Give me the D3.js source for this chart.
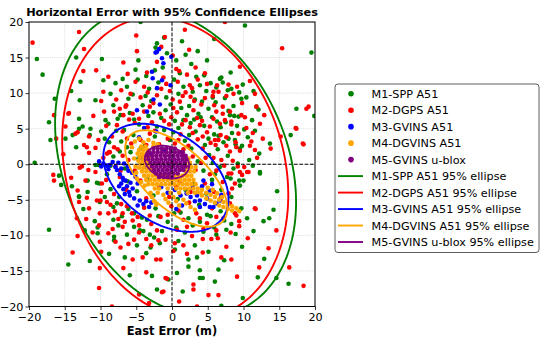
<!DOCTYPE html>
<html><head><meta charset="utf-8">
<script src="https://cdn.jsdelivr.net/npm/d3@7"></script>
<style>body{margin:0;background:#fff} svg{display:block;font-family:"DejaVu Sans",sans-serif}</style>
</head><body><svg id="chart" width="550" height="345"></svg>
<script>
const seriesNames = ["M1-SPP A51","M2-DGPS A51","M3-GVINS A51","M4-DGVINS A51","M5-GVINS u-blox"];
const ellipseNames = ["M1-SPP A51 95% ellipse","M2-DGPS A51 95% ellipse","M3-GVINS A51 95% ellipse","M4-DGVINS A51 95% ellipse","M5-GVINS u-blox 95% ellipse"];
const seriesColors = ["green","red","blue","orange","purple"];
const xTicks = [-20,-15,-10,-5,0,5,10,15,20];
const yTicks = [-20,-15,-10,-5,0,5,10,15,20];

const m1Points = [[-18.9,14.8],[-18.1,12.6],[-16.4,9.2],[-17.2,5.9],[-17.0,3.4],[-19.2,0.2],[-14.1,10.3],[-12.9,9.0],[-12.8,11.6],[-13.4,15.0],[-9.8,14.8],[-10.7,9.0],[-13.0,6.4],[-13.4,2.4],[-11.5,4.1],[-4.4,20.0],[-2.1,17.0],[-2.3,16.4],[-1.1,17.8],[-0.7,15.6],[-4.7,14.6],[-6.9,12.0],[-8.2,8.3],
[10.2,19.5],[5.9,17.6],[1.4,17.3],[6.7,12.0],[7.8,10.4],[9.4,10.1],[12.1,7.7],[17.4,7.8],[19.9,6.8],[16.6,4.1],[19.5,15.7],[4.5,12.5],[6.9,12.2],[9.7,9.2],[12.2,1.5],[11.8,8.1],[13.7,2.9],[9.3,6.7],[8.1,6.9],[8.8,3.4],[9.5,2.2],
[12.3,-1.3],[9.5,-3.0],[14.7,-3.8],[14.2,-6.4],[13.6,-7.6],[12.8,-8.0],[12.9,-13.3],[12.0,-15.9],[16.3,-16.8],[9.9,-18.8],[7.3,-13.5],[6.5,-14.8],[6.0,-16.5],[6.9,-19.9],[3.9,-16.0],[4.3,-16.0],[3.9,-14.9],[2.3,-14.4],[2.3,-13.4],[3.5,-13.1],[0.4,-12.0],[0.7,-15.3],[6.2,-9.9],[4.4,-9.5],[8.3,-8.4],[10.5,-7.6],[9.7,-6.2],[8.3,-4.6],[8.2,-2.0],[9.4,-2.3],[9.2,0.1],[14.6,-16.0],[10.0,-2.3],[12.3,-1.1],
[-15.8,-1.6],[-15.5,-2.9],[-14.0,-3.1],[-10.3,-0.1],[-11.8,-2.3],[-10.5,-2.6],[-11.8,-3.9],[-13.0,-4.5],[-10.1,-5.3],[-8.2,-6.0],[-10.8,-8.0],[-8.2,-7.8],[-7.0,-7.3],[-7.5,-8.6],[-4.5,-9.3],[-4.0,-9.4],[-10.4,-8.9],[-10.4,-9.7],[-17.2,-9.2],[-8.1,-10.2],[-8.1,-10.7],[-4.9,-11.4],[-3.6,-12.5],[-3.0,-11.7],[-1.7,-11.1],[-2.8,-15.7],[-2.1,-17.6],[-0.5,-16.2],[-11.5,-13.6],[-14.5,-14.1],[-13.0,-4.6],
[-13.9,4.1],[-14.9,3.6],[-13.0,5.0],[-10.7,-0.1],[-10.2,-2.7],[-8.8,3.1],[-7.2,6.9],[-6.7,4.8],[-9.3,6.2],[-11.4,5.0],[-12.5,5.3],
[-5.5,9.8],[-3.2,10.6],[-0.8,9.4],[1.6,10.9],[3.2,9.1],[4.8,10.3],[6.1,8.7],[-4.1,8.3],[-1.9,11.5],[2.4,8.2],[0.3,11.9],[-6.3,10.9],[5.4,11.4],[7.4,9.3],
[-7.6,6.4],[-5.9,7.2],[-4.6,5.6],[-3.3,6.8],[-2.1,5.3],[-0.9,7.6],[0.4,6.1],[1.3,7.9],[2.6,5.8],[3.7,7.1],[4.5,5.4],[5.6,6.6],[6.8,5.2],[7.9,7.5],[-1.5,6.5],[2.1,6.9],[5.1,7.8],[3.1,6.3],[0.9,5.1],[-8.9,5.7],[9.1,5.4],
[-7.1,3.2],[-5.4,4.1],[-3.8,2.6],[-2.4,3.9],[0.2,4.5],[1.8,3.3],[3.3,4.6],[4.6,2.7],[5.9,4.2],[7.2,3.1],[8.4,4.4],[6.4,2.1],[2.7,2.2],[-1.1,4.8],[-6.3,2.4],[-9.4,3.6],[10.6,3.8],
[-8.2,1.1],[-6.6,-0.6],[-4.7,0.8],[3.6,0.4],[5.2,1.3],[6.7,-0.4],[7.8,1.2],[4.4,-0.9],[-5.8,1.7],[10.8,0.6],[-9.1,-1.4],
[-8.6,-3.5],[-6.2,-2.4],[-4.9,-3.8],[-2.6,-4.4],[0.8,-4.9],[3.1,-2.8],[5.6,-2.2],[6.9,-3.6],[7.7,-1.8],[-3.4,-2.1],[1.9,-3.6],[4.8,-4.1],[-7.4,-4.6],
[-6.1,-6.3],[-4.2,-7.5],[-2.3,-6.2],[-0.6,-8.1],[1.2,-6.8],[2.9,-8.6],[4.9,-7.1],[6.8,-6.6],[-1.4,-9.4],[0.3,-6.9],[3.8,-5.7],[5.9,-8.9],[-5.3,-8.8],[-3.1,-9.9],[1.8,-9.6],[7.6,-9.2],
[3.9,11.1],[5.7,9.4],[8.6,8.2],[2.9,10.2],[7.1,11.5],[4.2,8.8],[6.5,4.0],[7.5,5.9],[8.9,2.8],[10.1,4.9],[11.2,6.2],[10.4,9.4],[-2.9,8.9],[-0.2,8.4],[1.1,12.8],[-1.3,13.6],[0.6,14.6],[2.7,14.1],[-3.6,12.4],[-5.1,13.3],
[-7.9,11.4],[-4.8,11.9],[-2.4,13.2],[1.9,15.4],[3.6,15.9],[4.9,14.6],[8.2,12.9],[9.9,11.2],[11.4,10.3],[-9.6,11.8],[-8.6,9.9],[-6.1,9.2],[-3.7,9.6],[0.9,9.9],[3.4,12.3],[6.2,10.8],[8.3,10.6],[-5.3,6.3],[-2.6,7.3],[1.6,6.2],[4.0,6.6],[6.3,6.0],[8.7,6.8],[-0.3,3.4],[2.4,4.1],[5.1,3.6],[7.9,3.6],[9.8,2.6],[11.6,4.7],[-9.9,4.6],[-7.8,4.7],[-4.4,2.2],[-8.6,-0.2],[-7.3,1.8],[5.7,0.2],[8.6,-0.6],[11.3,-0.2],[6.0,-1.4],
[-9.4,-4.6],[-7.7,-5.5],[-5.3,-6.9],[-3.5,-7.8],[-1.9,-7.3],[0.6,-8.9],[2.3,-7.6],[3.9,-8.1],[5.4,-7.3],[7.3,-7.9],[8.9,-9.8],[-6.3,-9.9],[-2.5,-10.3],[0.9,-10.8],[3.2,-11.4],[5.1,-12.3],[-6.6,-13.1],[-8.8,-12.6],[9.8,-11.6],[11.4,-9.4],[-12.2,-9.3],[-12.4,-6.3],[1.5,-17.9],[-5.9,-15.6]];

const m2Points = [[-19.5,17.1],[-13.0,18.6],[-5.0,18.1],[-12.3,16.2],[-4.9,15.9],[-1.5,16.5],[-6.8,14.3],[-10.6,13.2],[-12.4,13.1],[-6.2,12.7],[-16.5,6.9],[-14.4,7.2],[-9.6,10.2],[-7.3,7.8],[-13.2,4.5],[-16.2,3.6],[-14.9,5.3],[-15.2,1.4],[-11.0,6.8],[-11.9,2.4],[-10.3,3.4],[-8.7,1.7],
[15.4,16.3],[2.4,16.1],[-1.0,17.9],[1.0,13.1],[9.5,13.7],[10.9,11.7],[2.5,11.1],[5.8,10.2],[6.5,10.2],[11.8,8.1],[18.8,7.8],[17.3,5.1],[18.4,2.8],[15.2,3.9],[13.8,2.2],[11.9,0.9],[7.4,20.0],[1.8,18.9],
[10.5,-1.1],[9.8,-1.5],[11.7,-6.3],[14.6,-9.3],[13.5,-11.8],[12.2,-14.5],[16.4,-14.5],[18.4,-17.1],[8.3,-13.4],[5.1,-18.4],[6.5,-18.4],[3.5,-20.0],[3.0,-16.9],[3.0,-17.6],[2.1,-12.6],[0.4,-11.1],[-0.7,-16.1],[-1.2,-17.9],[7.6,-11.6],[6.2,-9.3],[5.5,-10.5],[4.3,-10.5],[9.4,-8.0],[9.4,-8.7],[9.0,-7.2],[8.1,-5.5],[8.3,-1.3],[1.0,-19.3],
[-16.6,-1.5],[-12.9,-0.5],[-11.7,-0.8],[-9.8,-2.7],[-13.0,-5.3],[-11.9,-4.7],[-10.5,-5.1],[-9.1,-5.3],[-11.6,-6.2],[-10.1,-6.9],[-8.9,-6.9],[-8.0,-6.6],[-6.3,-5.9],[-13.3,-7.6],[-12.0,-7.7],[-10.2,-8.6],[-7.5,-7.7],[-6.6,-8.1],[-5.5,-7.9],[-8.3,-9.1],[-6.9,-8.8],[-4.6,-8.6],[-13.2,-10.1],[-8.9,-9.7],[-10.1,-10.9],[-9.9,-12.3],[-13.9,-12.4],[-7.2,-11.7],[-6.1,-11.2],[-4.1,-13.1],[-5.5,-13.4],[-2.9,-11.4],[-1.9,-10.7],[-2.2,-13.4],[-1.6,-13.4],[-0.9,-16.0],[-1.4,-18.0],[0.2,-12.2],[-10.2,-17.4],[-10.1,-14.6],[-4.6,-18.3],[-8.4,-20.0],[-3.2,-19.5],
[-16.5,-2.3],[-14.5,7.1],[-12.3,2.7],[-13.2,-3.7],[-11.6,1.6],[-12.1,-2.3],[-10.7,-1.1],[-10.0,-5.1],[-9.1,1.5],[-8.1,2.4],[-6.5,8.1],[-5.5,7.1],[-7.7,5.5],[-9.5,7.4],[-11.6,3.9],[-13.5,4.3],
[12.3,5.7],[11.6,2.0],[9.7,6.9],[8.3,6.0],[7.6,3.8],[9.0,2.4],[10.7,-1.1],[17.4,5.0],[18.3,2.9],[19.1,8.1],[9.5,-1.1],[8.8,-2.7],[11.6,-6.2],
[-4.4,9.4],[-2.6,8.6],[-0.3,10.3],[1.1,8.8],[2.8,10.7],[4.1,8.4],[5.7,9.6],[7.1,8.1],[-5.1,11.6],[-1.2,12.2],[3.6,11.9],[0.6,13.4],[-3.5,12.9],[6.3,11.1],[8.6,9.9],[-7.8,9.1],[-6.4,8.3],[2.1,12.6],[9.8,8.6],
[-6.8,6.9],[-5.2,5.8],[-3.9,7.4],[-2.8,5.9],[-1.7,7.1],[-0.4,5.6],[0.7,7.3],[1.9,6.2],[3.0,7.6],[4.2,6.1],[5.3,5.3],[6.2,7.4],[7.4,6.2],[8.3,5.6],[-4.6,6.4],[2.5,5.2],[3.9,5.5],[-1.1,6.1],[0.2,7.9],[6.7,5.7],[-8.1,7.4],[10.2,6.6],
[-8.4,3.9],[-6.9,4.6],[-5.7,2.9],[-4.4,3.4],[-3.1,4.3],[-1.8,2.8],[-0.6,3.6],[1.2,4.2],[2.3,2.6],[3.6,3.5],[4.9,4.5],[5.4,3.0],[6.8,4.1],[7.6,2.6],[8.9,3.1],[9.5,1.9],[-7.6,2.1],[1.6,2.1],[4.3,2.2],[0.4,2.9],[-2.4,4.7],[6.1,2.7],[11.3,4.4],
[-9.6,0.9],[-7.9,-0.3],[-6.1,0.6],[-5.2,-0.9],[2.9,1.1],[4.1,0.2],[5.8,0.9],[7.3,-0.2],[8.5,0.5],[-8.8,1.7],[3.3,-0.8],[6.2,-0.9],[10.1,-0.4],
[-9.2,-2.2],[-7.3,-1.8],[-6.4,-3.6],[-4.4,-2.3],[-3.6,-4.8],[-1.8,-3.3],[-0.4,-4.6],[1.1,-2.4],[2.6,-3.9],[4.6,-2.7],[5.9,-3.9],[7.1,-2.5],[8.4,-3.4],[-8.1,-4.2],[6.8,-4.8],[0.6,-3.1],
[-7.1,-5.6],[-5.6,-6.9],[-3.9,-6.1],[-1.6,-7.4],[-0.1,-5.9],[1.6,-7.8],[2.4,-5.4],[3.4,-6.9],[4.4,-9.1],[5.6,-6.2],[7.2,-7.6],[-2.9,-8.4],[-4.6,-9.6],[0.7,-9.2],[2.8,-10.1],[-0.9,-10.6],[6.4,-10.4],[8.8,-6.9],
[4.6,12.8],[7.9,11.2],[3.3,13.6],[8.1,7.4],[6.0,3.4],[10.4,5.1],[11.1,3.2],[-2.1,14.4],[0.1,15.3],[-3.9,10.9],[1.5,9.6],[-0.8,11.3],
[-8.9,12.3],[-7.1,10.4],[-5.8,9.9],[-3.4,10.1],[-2.1,9.7],[-1.5,10.6],[0.8,11.6],[1.9,10.1],[3.1,8.9],[4.6,9.3],[5.9,8.3],[7.6,9.6],[9.1,10.9],[11.6,9.9],[12.9,6.9],[-9.9,8.9],[-3.1,8.1],[0.1,9.1],[2.6,9.5],[4.9,11.3],[-6.0,6.3],[-3.4,5.2],[-0.1,6.6],[1.4,5.6],[3.5,6.5],[5.8,6.4],[7.1,7.1],[9.3,4.3],[-9.2,5.4],[-6.3,3.6],[-3.6,2.7],[0.9,3.4],[2.9,4.4],[4.3,3.9],[6.5,3.4],[8.1,1.8],[10.9,2.6],[12.7,3.6],[-10.7,2.3],[-6.9,1.2],[4.7,0.9],[6.9,0.6],[9.2,-0.3],[-7.2,-0.9],[5.3,-1.4],[7.9,-1.3],
[-9.9,-3.9],[-8.6,-5.7],[-6.9,-6.9],[-4.8,-7.4],[-3.1,-7.2],[-2.1,-9.3],[-0.6,-7.1],[0.9,-6.5],[2.1,-8.8],[3.9,-7.6],[4.9,-8.3],[6.2,-7.4],[8.2,-9.6],[7.9,-4.1],[-11.1,-9.6],[-7.9,-10.9],[-5.3,-10.6],[-3.6,-10.5],[1.6,-11.4],[4.3,-12.4],[6.9,-13.1],[10.6,-10.4],[-6.8,-14.6],[-3.6,-15.2],[9.1,-15.8],[-12.6,-0.3],[-14.1,-1.9]];

const m3Points = [[-1.8,16.2],[-2.3,15.7],[-2.1,15.8],[-1.4,14.9],[-1.2,14.2],[-2.8,13.0],[-2.7,12.1],[-1.4,11.8],[-2.1,10.7],[-0.2,11.1],[-0.1,15.1],[-4.9,7.6],[-3.5,7.4],[-2.6,9.1],[-1.7,8.4],
[-10.2,0.4],[-9.6,0.1],[-9.1,-0.2],[-8.7,-0.1],[-8.3,0.3],[-7.9,-0.4],[-7.5,0.2],[-7.1,-0.6],[-6.7,0.1],[-6.2,-0.3],[-8.9,-0.7],[-9.9,-0.3],
[-7.7,-0.8],[-7.3,-1.4],[-6.9,-1.9],[-6.5,-2.3],[-7.1,-2.7],[-6.3,-3.1],[-5.8,-2.6],[-6.8,-3.5],[-6.0,-3.9],[-5.5,-3.4],[-5.9,-4.4],[-5.3,-4.8],[-6.6,-4.2],[-5.1,-1.8],[-5.6,-1.2],[-6.1,-0.9],[-4.8,-2.7],[-7.4,-3.1],[-6.8,-2.2],
[-4.5,-5.1],[-4.0,-5.6],[-3.6,-5.2],[-3.2,-6.0],[-4.8,-5.8],[-2.9,-5.4],
[-3.1,1.5],[-1.2,2.0],[-4.2,0.9],[-3.7,-0.3],[-2.4,-1.4],[-1.5,-3.2],[-0.6,-4.0],[0.4,-3.6],[1.2,-4.4],
[2.05,-4.1],[2.6,-4.6],[3.2,-5.2],[3.9,-6.0],[4.4,-2.3],[5.3,-3.7],[5.8,-6.0],[6.7,-5.1],[3.9,-5.1],[4.6,-5.6],[5.3,-6.0],[6.2,-5.5],[3.5,-4.4],[4.9,-4.8],[6.9,-4.3],[2.9,-3.3],[4.2,-3.1],[5.6,-2.8],[1.4,-5.8],[0.6,-6.3],
[-4.6,3.8],[-3.9,5.1],[-2.2,4.6]];

const m4Points = [[-4.3,2.5],[-3.7,2.5],[-4.6,2.0],[-4.0,2.0],[-3.4,2.0],[-4.8,1.5],[-4.2,1.5],[-3.6,1.5],[-4.5,1.0],[-3.9,1.0],[-3.3,1.0],[-4.7,0.5],[-4.1,0.5],[-3.5,0.5],[-4.4,0.0],[-3.8,0.0],[-3.2,0.0],[-4.6,-0.5],[-4.0,-0.5],[-3.4,-0.5],[-2.9,-0.5],[-4.2,-1.0],[-3.6,-1.0],[-3.0,-1.0],[-2.5,-1.0],
[-3.9,-1.6],[-3.3,-1.6],[-2.7,-1.6],[-2.1,-1.6],[-1.5,-1.6],[-0.9,-1.6],[-0.3,-1.6],[0.3,-1.6],[0.9,-1.6],[1.5,-1.6],[2.1,-1.6],[2.7,-1.6],
[-3.6,-2.2],[-3.0,-2.2],[-2.4,-2.2],[-1.8,-2.2],[-1.2,-2.2],[-0.6,-2.2],[0.0,-2.2],[0.6,-2.2],[1.2,-2.2],[1.8,-2.2],[2.4,-2.2],[3.0,-2.2],
[-3.3,-2.8],[-2.7,-2.8],[-2.1,-2.8],[-1.5,-2.8],[-0.9,-2.8],[-0.3,-2.8],[0.3,-2.8],[0.9,-2.8],[1.5,-2.8],[2.1,-2.8],[2.7,-2.8],[3.3,-2.8],
[-2.4,-3.4],[-1.8,-3.4],[-0.6,-3.4],[0.6,-3.4],[1.2,-3.4],[1.8,-3.4],[2.4,-3.4],[3.0,-3.4],[3.6,-3.4],
[-2.0,-4.0],[-0.2,-4.0],[1.0,-4.0],[2.2,-4.0],[3.2,-4.0],[4.0,-4.0],
[1.9,-1.0],[2.5,-1.0],[3.1,-1.0],[2.1,-0.4],[2.7,-0.4],[3.3,-0.4],[1.9,0.2],[2.5,0.2],[1.7,0.8],[2.3,0.8],
[-5.2,3.2],[-4.6,3.6],[-4.0,3.1],[-3.3,3.4],[-2.6,3.0],[-5.6,2.4],[-2.6,2.5],[-2.0,2.8],
[3.6,-3.9],[4.2,-3.6],[4.2,-4.4],[4.8,-4.0],[4.8,-4.8],[5.4,-4.3],[5.4,-5.1],[6.0,-4.6],[6.0,-5.4],[6.6,-5.0],[6.6,-5.8],[7.2,-5.3],[7.2,-6.0],[7.8,-5.6],[7.8,-6.3],[8.4,-5.9],[8.4,-6.5],[9.0,-6.2],[9.4,-6.6],[6.3,-4.1],[7.0,-4.6],[5.0,-3.3],[5.7,-3.6],
[-3.0,-4.0],[-2.8,-4.6],[-2.5,-5.2],[-2.2,-5.7],[-1.2,-4.3],[-0.9,-4.9],[-0.5,-5.4],[0.2,-4.6],[0.6,-5.2],[1.0,-5.8],[1.6,-5.0],[2.0,-5.5],[2.6,-6.0],[3.2,-6.4],[-3.8,-3.0],[-4.3,-2.5],
[-5.3,0.8],[-5.1,-0.3],[-5.0,-1.2],[-4.9,-2.0]];

const m5Points = [[-2.6,2.2],[-2.0,2.2],[-1.4,2.2],[-0.8,2.2],[-0.2,2.2],[0.4,2.2],
[-3.2,1.7],[-2.6,1.7],[-2.0,1.7],[-1.4,1.7],[-0.8,1.7],[-0.2,1.7],[0.4,1.7],[1.0,1.7],[1.5,1.7],
[-3.4,1.2],[-2.8,1.2],[-2.2,1.2],[-1.6,1.2],[-1.0,1.2],[-0.4,1.2],[0.2,1.2],[0.8,1.2],[1.4,1.2],[1.9,1.2],
[-3.3,0.7],[-2.7,0.7],[-2.1,0.7],[-1.5,0.7],[-0.9,0.7],[-0.3,0.7],[0.3,0.7],[0.9,0.7],[1.5,0.7],[2.0,0.7],
[-3.0,0.2],[-2.4,0.2],[-1.8,0.2],[-1.2,0.2],[-0.6,0.2],[0.0,0.2],[0.6,0.2],[1.2,0.2],[1.8,0.2],
[-2.8,-0.3],[-2.2,-0.3],[-1.6,-0.3],[-1.0,-0.3],[-0.4,-0.3],[0.2,-0.3],[0.8,-0.3],[1.4,-0.3],[1.9,-0.3],
[-2.5,-0.8],[-1.9,-0.8],[-1.3,-0.8],[-0.7,-0.8],[-0.1,-0.8],[0.5,-0.8],[1.1,-0.8],[1.6,-0.8],
[-2.2,-1.3],[-1.6,-1.3],[-1.0,-1.3],[-0.4,-1.3],[0.2,-1.3],[0.8,-1.3],
[-1.8,-1.8],[-1.2,-1.8],[-0.6,-1.8],[0.0,-1.8]];

// 95% ellipse: centers and scaled covariance [sxx, syy, sxy]
const ellipseCenters = [[0.5,0.2],[0.45,-0.5],[-0.85,-1.9],[0.6,-2.0],[-0.7,0.3]];
const ellipseCovs = [[284,468,-93.6],[250,449,-60.6],[76.6,57.8,-26],[51,46,-30],[9.6,5.3,-1.5]];

const allPoints = [m1Points,m2Points,m3Points,m4Points,m5Points];

const svg = d3.select("#chart");
const L=29, R=315, T=22, B=306.5;
const x = d3.scaleLinear().domain([-20,20]).range([L,R]);
const y = d3.scaleLinear().domain([-20,20]).range([B,T]);

svg.append("defs").append("clipPath").attr("id","clip")
  .append("rect").attr("x",L).attr("y",T).attr("width",R-L).attr("height",B-T);

const grid = svg.append("g");
grid.selectAll(".gx").data(xTicks).join("line")
  .attr("x1",d=>x(d)).attr("x2",d=>x(d)).attr("y1",T).attr("y2",B)
  .attr("stroke","#cfcfcf").attr("stroke-width",0.8).attr("stroke-dasharray","1,1.3");
grid.selectAll(".gy").data(yTicks).join("line")
  .attr("y1",d=>y(d)).attr("y2",d=>y(d)).attr("x1",L).attr("x2",R)
  .attr("stroke","#cfcfcf").attr("stroke-width",0.8).attr("stroke-dasharray","1,1.3");

const plot = svg.append("g").attr("clip-path","url(#clip)");

allPoints.forEach((pts,i)=>{
  plot.append("g").selectAll("circle").data(pts).join("circle")
    .attr("cx",d=>x(d[0])).attr("cy",d=>y(d[1])).attr("r",2.3)
    .attr("fill",seriesColors[i]);
});

plot.append("line").attr("x1",x(0)).attr("x2",x(0)).attr("y1",T).attr("y2",B)
  .attr("stroke","black").attr("stroke-width",1).attr("stroke-dasharray","3.7,1.6");
plot.append("line").attr("y1",y(0)).attr("y2",y(0)).attr("x1",L).attr("x2",R)
  .attr("stroke","black").attr("stroke-width",1).attr("stroke-dasharray","3.7,1.6");

function ellipsePts(c, cov){
  const a=cov[0], d=cov[1], b=cov[2];
  const m=(a+d)/2, disc=Math.sqrt(((a-d)/2)**2+b*b);
  const l1=m+disc, l2=m-disc;
  const th=0.5*Math.atan2(2*b,a-d);
  const A=Math.sqrt(l1), Bm=Math.sqrt(l2);
  return d3.range(0,361,2).map(deg=>{
    const t=deg*Math.PI/180;
    return [c[0]+A*Math.cos(t)*Math.cos(th)-Bm*Math.sin(t)*Math.sin(th),
            c[1]+A*Math.cos(t)*Math.sin(th)+Bm*Math.sin(t)*Math.cos(th)];
  });
}
const line = d3.line().x(d=>x(d[0])).y(d=>y(d[1]));
ellipseCenters.forEach((c,i)=>{
  plot.append("path").attr("d",line(ellipsePts(c,ellipseCovs[i])))
    .attr("fill","none").attr("stroke",seriesColors[i]).attr("stroke-width",1.9);
});

svg.append("rect").attr("x",L).attr("y",T).attr("width",R-L).attr("height",B-T)
  .attr("fill","none").attr("stroke","black").attr("stroke-width",1);

const fmt = d3.format("d");
const xa = svg.append("g").attr("transform",`translate(0,${B})`)
  .call(d3.axisBottom(x).tickValues(xTicks).tickSize(3.5).tickPadding(3.5).tickFormat(fmt));
const ya = svg.append("g").attr("transform",`translate(${L},0)`)
  .call(d3.axisLeft(y).tickValues(yTicks).tickSize(3.5).tickPadding(2).tickFormat(fmt));
[xa,ya].forEach(g=>{
  g.select(".domain").remove();
  g.selectAll("text").attr("font-size","11.2px").attr("fill","black").attr("font-family","DejaVu Sans");
  g.selectAll("line").attr("stroke","black").attr("stroke-width",0.8);
});

svg.append("text").attr("x",(L+R)/2).attr("y",15.5).attr("text-anchor","middle")
  .attr("font-weight","bold").attr("font-size","11.3px").text("Horizontal Error with 95% Confidence Ellipses");
svg.append("text").attr("x",(L+R)/2).attr("y",335).attr("text-anchor","middle")
  .attr("font-weight","bold").attr("font-size","11.4px").text("East Error (m)");

const lg = svg.append("g");
lg.append("rect").attr("x",335).attr("y",84).attr("width",204).attr("height",168.5)
  .attr("rx",3).attr("fill","white").attr("stroke","#333").attr("stroke-width",0.8);
const rowY = i => 93.7 + i*16.48;
seriesNames.forEach((n,i)=>{
  lg.append("circle").attr("cx",351).attr("cy",rowY(i)).attr("r",2.8).attr("fill",seriesColors[i]);
  lg.append("text").attr("x",371.5).attr("y",rowY(i)+4).attr("font-size","11.2px").text(n);
});
ellipseNames.forEach((n,j)=>{
  const i=j+5;
  lg.append("line").attr("x1",338).attr("x2",363).attr("y1",rowY(i)).attr("y2",rowY(i))
    .attr("stroke",seriesColors[j]).attr("stroke-width",1.9);
  lg.append("text").attr("x",371.5).attr("y",rowY(i)+4).attr("font-size","11.2px").text(n);
});
</script></body></html>
